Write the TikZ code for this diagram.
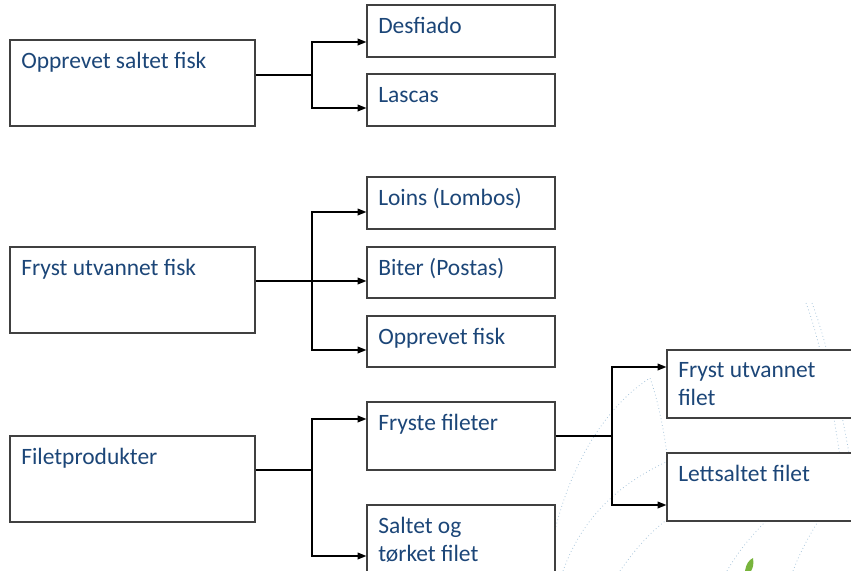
\documentclass[tikz,border=0pt]{standalone}
\usepackage{fontspec}
\setmainfont{Carlito}
\usetikzlibrary{arrows.meta,calc}
\definecolor{txtblue}{RGB}{28,70,120}
\definecolor{decor}{RGB}{170,198,220}
\definecolor{leafgreen}{RGB}{120,180,60}
\begin{document}
\begin{tikzpicture}[x=0.75pt,y=-0.75pt,
  box/.style={draw=black!75,line width=0.9pt,fill=white,rectangle,inner sep=0pt},
  colA/.style={box,minimum width=183.75pt,minimum height=64.5pt},
  colB/.style={box,minimum width=141pt},
  colC/.style={box,minimum width=141.75pt,minimum height=51pt},
  lbl/.style={anchor=base west,inner sep=0pt,text=txtblue,font=\fontsize{17.6}{21}\selectfont,align=left},
  line/.style={draw=black,line width=0.9pt},
  arr/.style={line,-{Triangle[length=6.5pt,width=5pt]}},
  deco/.style={draw=decor,dotted,line width=0.6pt}]
\useasboundingbox (0,0) rectangle (851,571);
% background decoration
\draw[deco] (547,571) .. controls (560,480) and (600,410) .. (650,378) .. controls (658,400) and (664,430) .. (668,462);
\draw[deco] (563,571) .. controls (582,518) and (620,478) .. (690,452);
\draw[deco] (620,571) .. controls (638,545) and (658,522) .. (690,505);
\draw[deco] (812,303) .. controls (826,340) and (840,400) .. (852,470);
\draw[deco] (806,303) .. controls (820,340) and (832,400) .. (842,470);
\draw[deco] (727,571) .. controls (740,548) and (755,532) .. (772,515);
\draw[deco] (793,571) .. controls (800,552) and (810,534) .. (822,515);
\fill[leafgreen] (745,571) .. controls (746,564) and (749,560) .. (753,558) .. controls (754,564) and (753,568) .. (751,571) -- cycle;
% boxes
\node[colA] (A) at (132.5,83) {};
\node[colB,minimum height=39pt] (D) at (461,31) {};
\node[colB,minimum height=39pt] (L) at (461,100) {};
\node[colA] (B) at (132.5,290) {};
\node[colB,minimum height=39pt] (Lo) at (461,203) {};
\node[colB,minimum height=38.25pt] (Bi) at (461,272.5) {};
\node[colB,minimum height=38.25pt] (Op) at (461,341.5) {};
\node[colA] (C) at (132.5,479) {};
\node[colB,minimum height=51pt] (FF) at (461,436) {};
\node[colB,minimum height=51pt] (SO) at (461,539) {};
\node[colC] (FU) at (761.5,384) {};
\node[colC] (LF) at (761.5,487) {};
% labels
\node[lbl] (tA) at (21,68) {Opprevet saltet fisk};
\node[lbl] (tD) at (378,33) {Desfiado};
\node[lbl] (tL) at (378,102) {Lascas};
\node[lbl] (tB) at (21,275) {Fryst utvannet fisk};
\node[lbl] (tLo) at (378,205) {Loins (Lombos)};
\node[lbl] (tBi) at (378,275) {Biter (Postas)};
\node[lbl] (tOp) at (378,344) {Opprevet fisk};
\node[lbl] (tC) at (21,464) {Filetprodukter};
\node[lbl] (tFF) at (378,430) {Fryste fileter};
\node[lbl] (tSO) at (378,561) {Saltet og\\tørket filet};
\node[lbl] (tFU) at (678,405) {Fryst utvannet\\filet};
\node[lbl] (tLF) at (678,481) {Lettsaltet filet};
% connectors
\coordinate (j1) at (312,75);
\coordinate (j2) at (312,281);
\coordinate (j3) at (312,470);
\coordinate (j4) at (612,436);
\draw[line] (A.east|-j1) -- (j1);
\draw[arr] (j1) |- ([yshift=-8.25pt]D.west);
\draw[arr] (j1) |- ([yshift=-6pt]L.west);
\draw[line,line width=1.4pt] (B.east|-j2) -- (j2);
\draw[arr] (j2) |- ([yshift=-6.75pt]Lo.west);
\draw[arr] (j2) -- (Bi.west|-j2);
\draw[arr] (j2) |- ([yshift=-6.375pt]Op.west);
\draw[line] (C.east|-j3) -- (j3);
\draw[arr] (j3) |- ([yshift=12.75pt]FF.west);
\draw[arr] (j3) |- ([yshift=-12.75pt]SO.west);
\draw[line] (FF.east|-j4) -- (j4);
\draw[arr] (j4) |- ([yshift=12.75pt]FU.west);
\draw[arr] (j4) |- ([yshift=-13.5pt]LF.west);
\end{tikzpicture}
\end{document}
